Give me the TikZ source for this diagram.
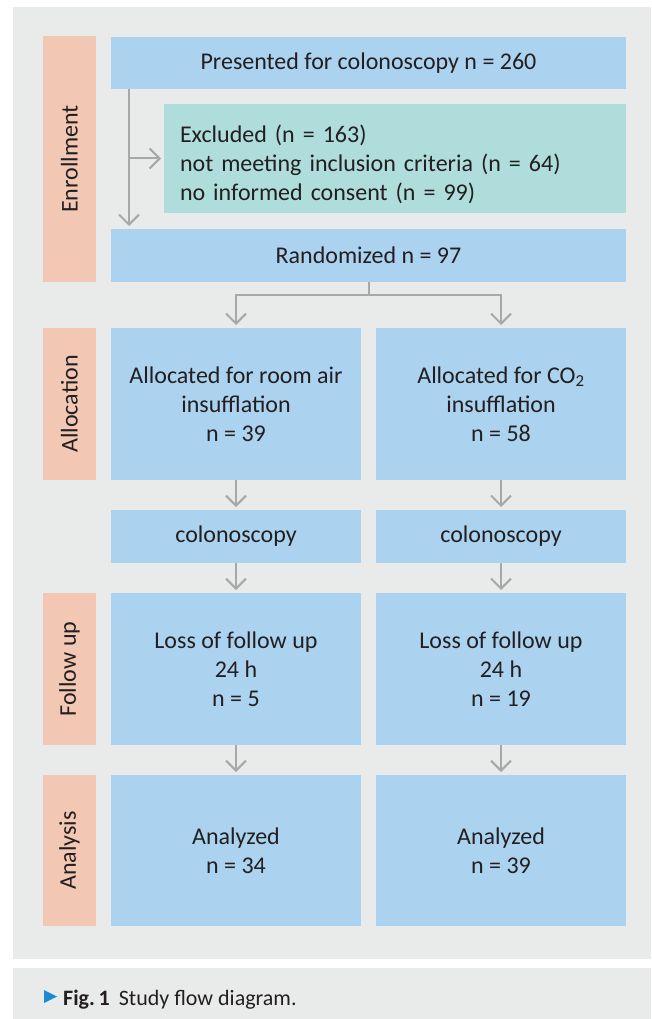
\documentclass[tikz,border=0pt]{standalone}
\usepackage{fontspec}
\setmainfont{Carlito}
\usetikzlibrary{arrows.meta,positioning,calc}
\definecolor{panelgrey}{HTML}{E9EBEA}
\definecolor{boxblue}{HTML}{ABD3EF}
\definecolor{exclteal}{HTML}{AFDDDB}
\definecolor{phasesalmon}{HTML}{F2C8B4}
\definecolor{arrowgrey}{HTML}{A6A8AA}
\definecolor{textdark}{HTML}{231F20}
\definecolor{capblue}{HTML}{1A8BD1}
\tikzset{
	bodyfont/.style={font=\fontsize{24pt}{29pt}\selectfont},
	stage/.style={fill=boxblue,inner sep=0pt,outer sep=0pt,text=textdark,align=center,bodyfont},
	excluded/.style={stage,fill=exclteal,align=left,text width=430pt,inner xsep=16pt},
	phase/.style={fill=phasesalmon,rotate=90,minimum height=53pt,inner sep=0pt,outer sep=0pt,text=textdark,bodyfont},
	flow/.style={draw=arrowgrey,line width=2pt,-{Straight Barb[length=10pt,width=20pt]},shorten >=3pt},
	flowline/.style={draw=arrowgrey,line width=2pt}
}
\begin{document}
\begin{tikzpicture}[x=1pt,y=-1pt]
		\useasboundingbox (0,0) rectangle (651,1019);
		\fill[white] (0,0) rectangle (651,1019);
		\fill[panelgrey] (13,7) rectangle (651,959);
		\fill[panelgrey] (13,968) rectangle (651,1019);
		
		%%%phases
		\node[phase,minimum width=246pt] (enroll) at (69.5,159) {Enrollment};
		\node[phase,minimum width=152pt] (alloc) at (69.5,404) {Allocation};
		\node[phase,minimum width=152pt] (follow) at (69.5,669) {Follow up};
		\node[phase,minimum width=151pt] (analysis) at (69.5,850.5) {Analysis};
		
		%%%enrollment
		\node[stage,minimum width=515pt,minimum height=52pt] (pres) at (368.5,63) {Presented for colonoscopy n = 260};
		\node[excluded,minimum height=109pt] (excl) at (395,158.5) {\rule{0pt}{29pt}Excluded (n = 163)\\not meeting inclusion criteria (n = 64)\\no informed consent (n = 99)};
		\node[stage,minimum width=515pt,minimum height=53pt] (rand) at (368.5,255.5) {Randomized n = 97};
		
		%%%two arms
		\node[stage,minimum width=250pt,minimum height=152pt] (allocL) at (236,404) {Allocated for room air\\insufflation\\n = 39};
		\node[stage,minimum width=250pt,minimum height=152pt] (allocR) at (501,404) {Allocated for CO\textsubscript{2}\\insufflation\\n = 58};
		\node[stage,minimum width=250pt,minimum height=53pt] (colL) at (236,536.5) {colonoscopy};
		\node[stage,minimum width=250pt,minimum height=53pt] (colR) at (501,536.5) {colonoscopy};
		\node[stage,minimum width=250pt,minimum height=152pt] (followL) at (236,669) {Loss of follow up\\24 h\\n = 5};
		\node[stage,minimum width=250pt,minimum height=152pt] (followR) at (501,669) {Loss of follow up\\24 h\\n = 19};
		\node[stage,minimum width=250pt,minimum height=151pt] (anaL) at (236,850.5) {Analyzed\\n = 34};
		\node[stage,minimum width=250pt,minimum height=151pt] (anaR) at (501,850.5) {Analyzed\\n = 39};
		
		%%%arrows
		\coordinate (trunk) at (129,0);
		\draw[flow] (pres.south -| trunk) -- (rand.north -| trunk);
		\draw[flow] (excl.west -| trunk) -- (excl.west);
		\draw[flowline] (rand.south) -- ++(0,13) coordinate (fork);
		\draw[flow] (fork) -| (allocL.north);
		\draw[flow] (fork) -| (allocR.north);
		\draw[flow] (allocL) -- (colL);
		\draw[flow] (allocR) -- (colR);
		\draw[flow] (colL) -- (followL);
		\draw[flow] (colR) -- (followR);
		\draw[flow] (followL) -- (anaL);
		\draw[flow] (followR) -- (anaR);
		
		%%%caption
		\fill[capblue] (44,990) -- (57,996.5) -- (44,1003) -- cycle;
		\node[anchor=base west,inner sep=0pt,text=textdark,font=\fontsize{22pt}{29pt}\selectfont] (caption) at (63,1005) {\textbf{Fig.\,1}\hspace{9pt}Study flow diagram.};
	\end{tikzpicture}
\end{document}
